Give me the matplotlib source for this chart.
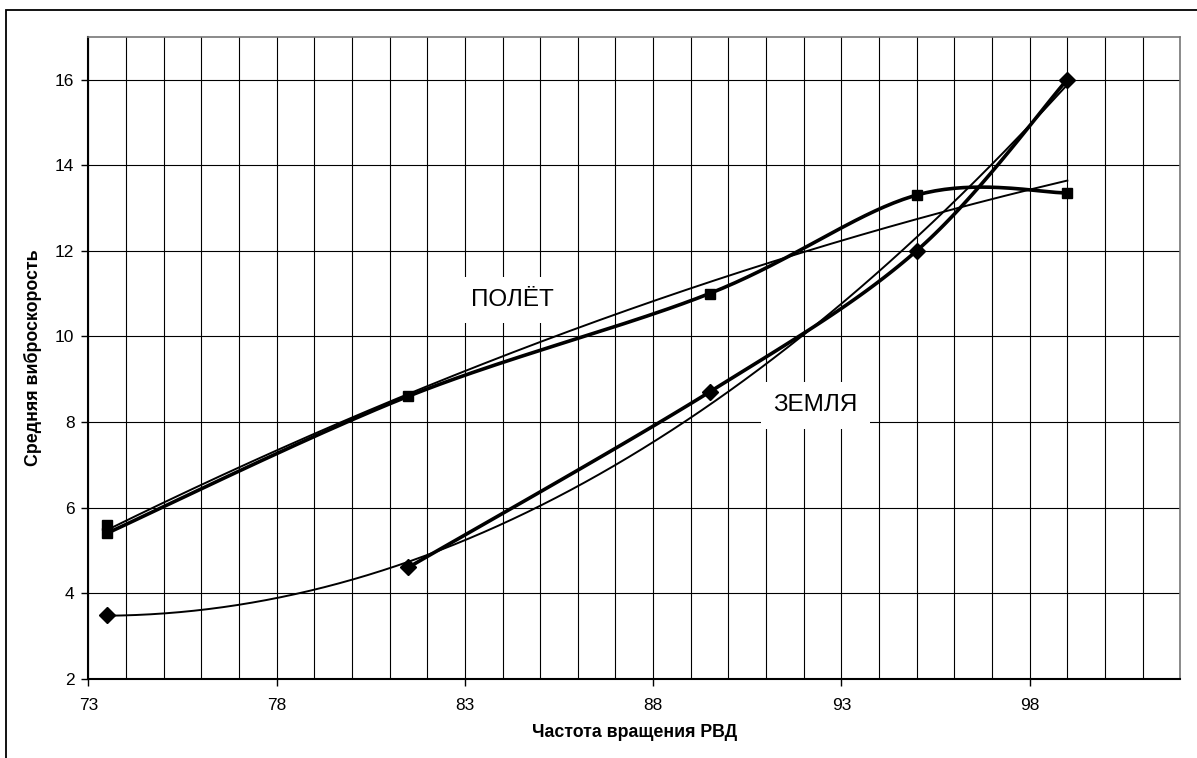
import numpy as np
import matplotlib
matplotlib.use("Agg")
import matplotlib.pyplot as plt
from matplotlib.patches import Rectangle

plt.rcParams['font.family'] = ['Liberation Sans', 'DejaVu Sans']

# ---- data ----
polet_x = [73.5, 73.5, 81.5, 89.5, 95.0, 99.0]
polet_y = [5.6, 5.4, 8.6, 11.0, 13.3, 13.35]
zemlya_x = [73.5, 81.5, 89.5, 95.0, 99.0]
zemlya_y = [3.5, 4.6, 8.7, 12.0, 16.0]
x_ticks = [73, 78, 83, 88, 93, 98]
y_ticks = [2, 4, 6, 8, 10, 12, 14, 16]
x_label = "Частота вращения РВД"
y_label = "Средняя виброскорость"
label_polet = "ПОЛЁТ"
label_zemlya = "ЗЕМЛЯ"


def smooth(x, y, n=40):
    """Excel-like smoothed line (cardinal Bezier through the points)."""
    p = np.column_stack([x, y]).astype(float)
    t = np.linspace(0, 1, n)[:, None]
    segs = []
    for i in range(len(p) - 1):
        p0 = p[max(i - 1, 0)]
        p1 = p[i]
        p2 = p[i + 1]
        p3 = p[min(i + 2, len(p) - 1)]
        c1 = p1 + (p2 - p0) / 6.0
        c2 = p2 - (p3 - p1) / 6.0
        seg = ((1 - t) ** 3) * p1 + 3 * ((1 - t) ** 2) * t * c1 + 3 * (1 - t) * t ** 2 * c2 + t ** 3 * p2
        segs.append(seg)
    s = np.vstack(segs)
    return s[:, 0], s[:, 1]


def trend(x, y, deg=2, n=200):
    c = np.polyfit(x, y, deg)
    xs = np.linspace(min(x), max(x), n)
    return xs, np.polyval(c, xs)


W, H = 1197, 758
fig = plt.figure(figsize=(W / 100, H / 100), dpi=100)
# outer chart-area border (cut at right and bottom like the reference)
fig.patches.append(Rectangle((6 / W, -0.2), 1.5, 1.2 - 9.5 / H, transform=fig.transFigure,
                             fill=False, edgecolor='black', linewidth=1.3))

left, right, top, bottom = 88.3, 1180.3, 36.7, 678.7
ax = fig.add_axes([left / W, 1 - bottom / H, (right - left) / W, (bottom - top) / H])
ax.set_xlim(73, 102)
ax.set_ylim(2, 17)

ax.set_xticks(x_ticks)
ax.set_xticks(np.arange(73, 103, 1), minor=True)
ax.set_yticks(y_ticks)
ax.tick_params(axis='both', which='major', direction='out', length=5, width=1, labelsize=12.5, colors='black')
ax.tick_params(axis='x', which='minor', length=0)
ax.tick_params(axis='x', pad=9)
ax.tick_params(axis='y', pad=5)
ax.grid(axis='x', which='both', color='black', linewidth=0.8)
ax.grid(axis='y', which='major', color='black', linewidth=0.8)
ax.set_axisbelow(True)
for s in ['left', 'bottom']:
    ax.spines[s].set_color('black')
    ax.spines[s].set_linewidth(1.5)
for s in ['top', 'right']:
    ax.spines[s].set_color('#777777')
    ax.spines[s].set_linewidth(1.2)

# thin trend lines
tx, ty = trend(polet_x, polet_y)
ax.plot(tx, ty, color='black', linewidth=1.4, zorder=3)
tx, ty = trend(zemlya_x, zemlya_y)
ax.plot(tx, ty, color='black', linewidth=1.4, zorder=3)

# thick smoothed lines
sx, sy = smooth(polet_x[1:], polet_y[1:])
ax.plot(sx, sy, color='black', linewidth=2.6, zorder=4)
sx, sy = smooth(zemlya_x[1:], zemlya_y[1:])
ax.plot(sx, sy, color='black', linewidth=2.6, zorder=4)

# markers
ax.plot(polet_x, polet_y, linestyle='none', marker='s', markersize=7.8, color='black', zorder=5)
ax.plot(zemlya_x, zemlya_y, linestyle='none', marker='D', markersize=8.3, color='black', zorder=5)

bbox = dict(facecolor='white', edgecolor='none', pad=9)
ax.text(84.25, 10.85, label_polet, fontsize=17.5, ha='center', va='center', bbox=bbox, zorder=2.5)
ax.text(92.32, 8.39, label_zemlya, fontsize=17.5, ha='center', va='center', bbox=bbox, zorder=2.5)

ax.set_xlabel(x_label, fontsize=12.8, fontweight='bold')
ax.set_ylabel(y_label, fontsize=12.8, fontweight='bold')
ax.xaxis.set_label_coords(0.5, -0.07)
ax.yaxis.set_label_coords(-0.042, 0.5)

fig.savefig('out.png', dpi=100)
